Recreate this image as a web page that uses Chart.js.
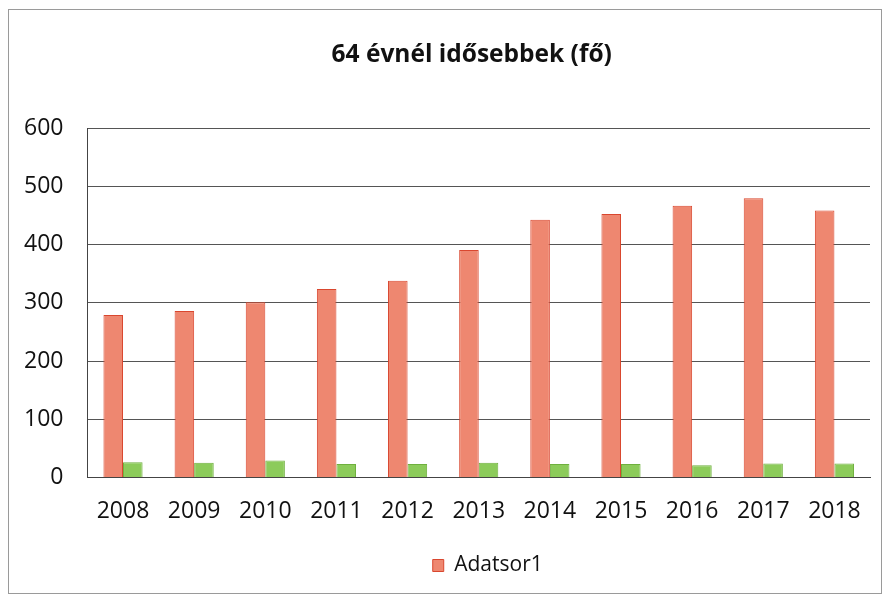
<!DOCTYPE html>
<html>
<head>
<meta charset="utf-8">
<script src="https://cdn.jsdelivr.net/npm/chart.js@4"></script>
<style>
  body { margin: 0; background: #fff; }
  #wrap { position: absolute; left: 0; top: 0; width: 884px; height: 594px; }
</style>
</head>
<body>
<div id="wrap"><canvas id="myChart" width="884" height="594"></canvas></div>
<script>
const years = ['2008', '2009', '2010', '2011', '2012', '2013', '2014', '2015', '2016', '2017', '2018'];
const adatsor1 = [279, 286, 301, 324, 338, 391, 443, 453, 467, 480, 459];
const adatsor2 = [26, 25, 29, 23, 23, 25, 23, 23, 21, 24, 24];
const yTicks = [0, 100, 200, 300, 400, 500, 600];

const ctx = document.getElementById('myChart');

// thin frame round the whole chart, like the pasted office chart
const frame = {
  id: 'frame',
  beforeDraw(chart) {
    const c = chart.ctx;
    c.save();
    c.fillStyle = '#fff';
    c.fillRect(0, 0, chart.width, chart.height);
    c.strokeStyle = '#9a9a9a';
    c.lineWidth = 1;
    c.strokeRect(8.5, 9.5, 873, 584);
    c.restore();
  }
};

// title and legend sit centred over the plot, not over the whole canvas
const centreOnPlot = {
  id: 'centreOnPlot',
  afterLayout(chart) {
    const a = chart.chartArea;
    chart.titleBlock.left = a.left - 14;
    chart.titleBlock.right = a.right;
    chart.legend.left = a.left + 18;
    chart.legend.right = a.right;
  }
};

const myChart = new Chart(ctx, {
  type: 'bar',
  data: {
    labels: years,
    datasets: [{
      label: 'Adatsor1',
      data: adatsor1,
      backgroundColor: '#ee8770',
      borderColor: '#d9472f',
      borderWidth: 1
    }, {
      label: 'Adatsor2',
      data: adatsor2,
      backgroundColor: '#8ccb5a',
      borderColor: '#6fb03e',
      borderWidth: 1
    }]
  },
  options: {
    responsive: false,
    animation: false,
    layout: { padding: { left: 0, right: 14, top: 40, bottom: 8 } },
    datasets: { bar: { barPercentage: 1, categoryPercentage: 0.55 } },
    plugins: {
      title: {
        display: true,
        text: '64 évnél idősebbek (fő)',
        color: '#111',
        font: { family: 'Open Sans', size: 24.5, weight: 'bold' },
        padding: { top: 0, bottom: 59 }
      },
      legend: {
        position: 'bottom',
        labels: {
          filter: (item) => item.text === 'Adatsor1',
          boxWidth: 11,
          boxHeight: 12,
          padding: 10,
          color: '#111',
          font: { family: 'Open Sans', size: 21 }
        }
      },
      tooltip: { enabled: false }
    },
    scales: {
      x: {
        grid: { display: false, drawTicks: false },
        border: { display: true, color: '#444', width: 1 },
        ticks: { color: '#111', font: { family: 'Open Sans', size: 23 }, padding: 20 }
      },
      y: {
        min: 0,
        max: 600,
        afterBuildTicks: (axis) => { axis.ticks = yTicks.map(v => ({ value: v })); },
        grid: { color: '#555', lineWidth: 1, drawTicks: false },
        border: { display: true, color: '#444', width: 1 },
        ticks: { color: '#111', font: { family: 'Open Sans', size: 23 }, padding: 24 }
      }
    }
  },
  plugins: [frame, centreOnPlot]
});
</script>
</body>
</html>
